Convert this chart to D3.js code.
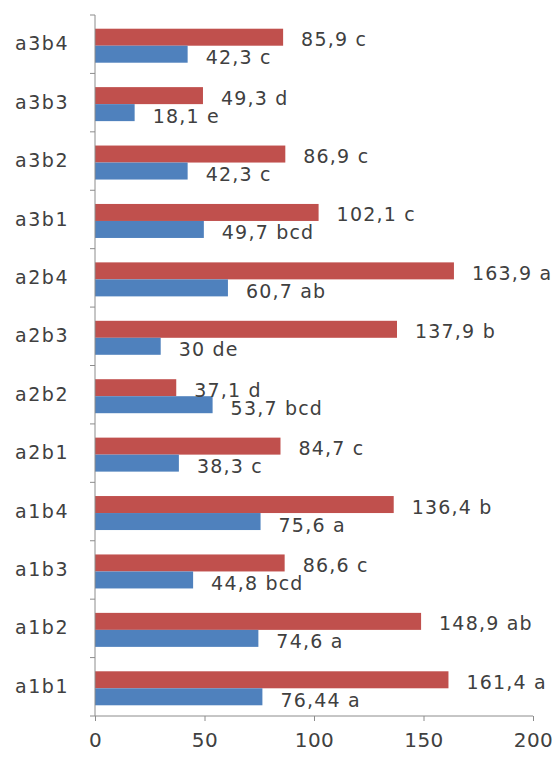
<!DOCTYPE html>
<html>
<head>
<meta charset="utf-8">
<script src="https://cdn.jsdelivr.net/npm/d3@7/dist/d3.min.js"></script>
<style>
  html, body { margin: 0; padding: 0; background: #ffffff; }
  svg { display: block; }
  text { font-family: "DejaVu Sans", Verdana, sans-serif; fill: #404040; }
</style>
</head>
<body>
<div id="chart"></div>
<script>
// ---- data (bottom-to-top order, as in the chart) ----
const categories = ["a1b1","a1b2","a1b3","a1b4","a2b1","a2b2","a2b3","a2b4","a3b1","a3b2","a3b3","a3b4"];
const redValues   = [161.4, 148.9, 86.6, 136.4, 84.7, 37.1, 137.9, 163.9, 102.1, 86.9, 49.3, 85.9];
const redLetters  = ["a", "ab", "c", "b", "c", "d", "b", "a", "c", "c", "d", "c"];
const blueValues  = [76.44, 74.6, 44.8, 75.6, 38.3, 53.7, 30, 60.7, 49.7, 42.3, 18.1, 42.3];
const blueLetters = ["a", "a", "bcd", "a", "c", "bcd", "de", "ab", "bcd", "c", "e", "c"];
const xTicks = [0, 50, 100, 150, 200];

const W = 553, H = 761;
const plot = { left: 95, right: 533, top: 15, bottom: 716 };
const RED = "#C0504D", BLUE = "#4F81BD", AXIS = "#8c8c8c";

const svg = d3.select("#chart").append("svg").attr("width", W).attr("height", H);

const x = d3.scaleLinear().domain([0, 200]).range([plot.left, plot.right]);
// top-to-bottom: reverse order
const y = d3.scaleBand().domain(categories.slice().reverse())
  .range([plot.top, plot.bottom]).paddingInner(0).paddingOuter(0);

const barH = 17;
const fmt = v => String(v).replace(".", ",");

const rows = categories.map((c, i) => ({
  cat: c, red: redValues[i], redL: redLetters[i], blue: blueValues[i], blueL: blueLetters[i]
}));

const g = svg.append("g");

// bars
rows.forEach(d => {
  const cy = y(d.cat) + y.bandwidth() / 2 + 1.5;
  g.append("rect").attr("x", x(0)).attr("y", cy - barH)
    .attr("width", x(d.red) - x(0)).attr("height", barH).attr("fill", RED);
  g.append("rect").attr("x", x(0)).attr("y", cy)
    .attr("width", x(d.blue) - x(0)).attr("height", barH).attr("fill", BLUE);
});

// axes
const xAxis = d3.axisBottom(x).tickValues(xTicks).tickSize(5).tickPadding(12).tickFormat(d3.format("d"));
const gx = svg.append("g").attr("transform", `translate(0,${plot.bottom})`).call(xAxis);
gx.select(".domain").attr("stroke", AXIS).attr("d", `M${plot.left},0H${plot.right}`);
gx.selectAll(".tick line").attr("stroke", AXIS);
gx.selectAll(".tick text").attr("font-size", 20).attr("fill", "#404040")
  .attr("font-family", "DejaVu Sans, Verdana, sans-serif").attr("letter-spacing", "0.5px");

const yAxis = d3.axisLeft(y).tickSize(0).tickPadding(26);
const gy = svg.append("g").attr("transform", `translate(${plot.left},0)`).call(yAxis);
gy.select(".domain").attr("stroke", AXIS).attr("d", `M0,${plot.top}V${plot.bottom}`);
gy.selectAll(".tick text").attr("font-size", 19).attr("fill", "#404040")
  .attr("font-family", "DejaVu Sans, Verdana, sans-serif").attr("letter-spacing", "1.5px");
// category boundary ticks
const bounds = y.domain().map(c => y(c)).concat([plot.bottom]);
gy.selectAll("line.bt").data(bounds).enter().append("line").attr("class", "bt")
  .attr("x1", -5).attr("x2", 0).attr("y1", d => d).attr("y2", d => d).attr("stroke", AXIS);

// value labels
const lab = svg.append("g").attr("letter-spacing", "1.2px");
rows.forEach(d => {
  const cy = y(d.cat) + y.bandwidth() / 2 + 1.5;
  lab.append("text").attr("x", x(d.red) + 18).attr("y", cy - barH / 2 + 2)
    .attr("dominant-baseline", "central").attr("font-size", 19)
    .text(`${fmt(d.red)} ${d.redL}`);
  lab.append("text").attr("x", x(d.blue) + 18).attr("y", cy + barH / 2 + 3)
    .attr("dominant-baseline", "central").attr("font-size", 19)
    .text(`${fmt(d.blue)} ${d.blueL}`);
});
</script>
</body>
</html>
